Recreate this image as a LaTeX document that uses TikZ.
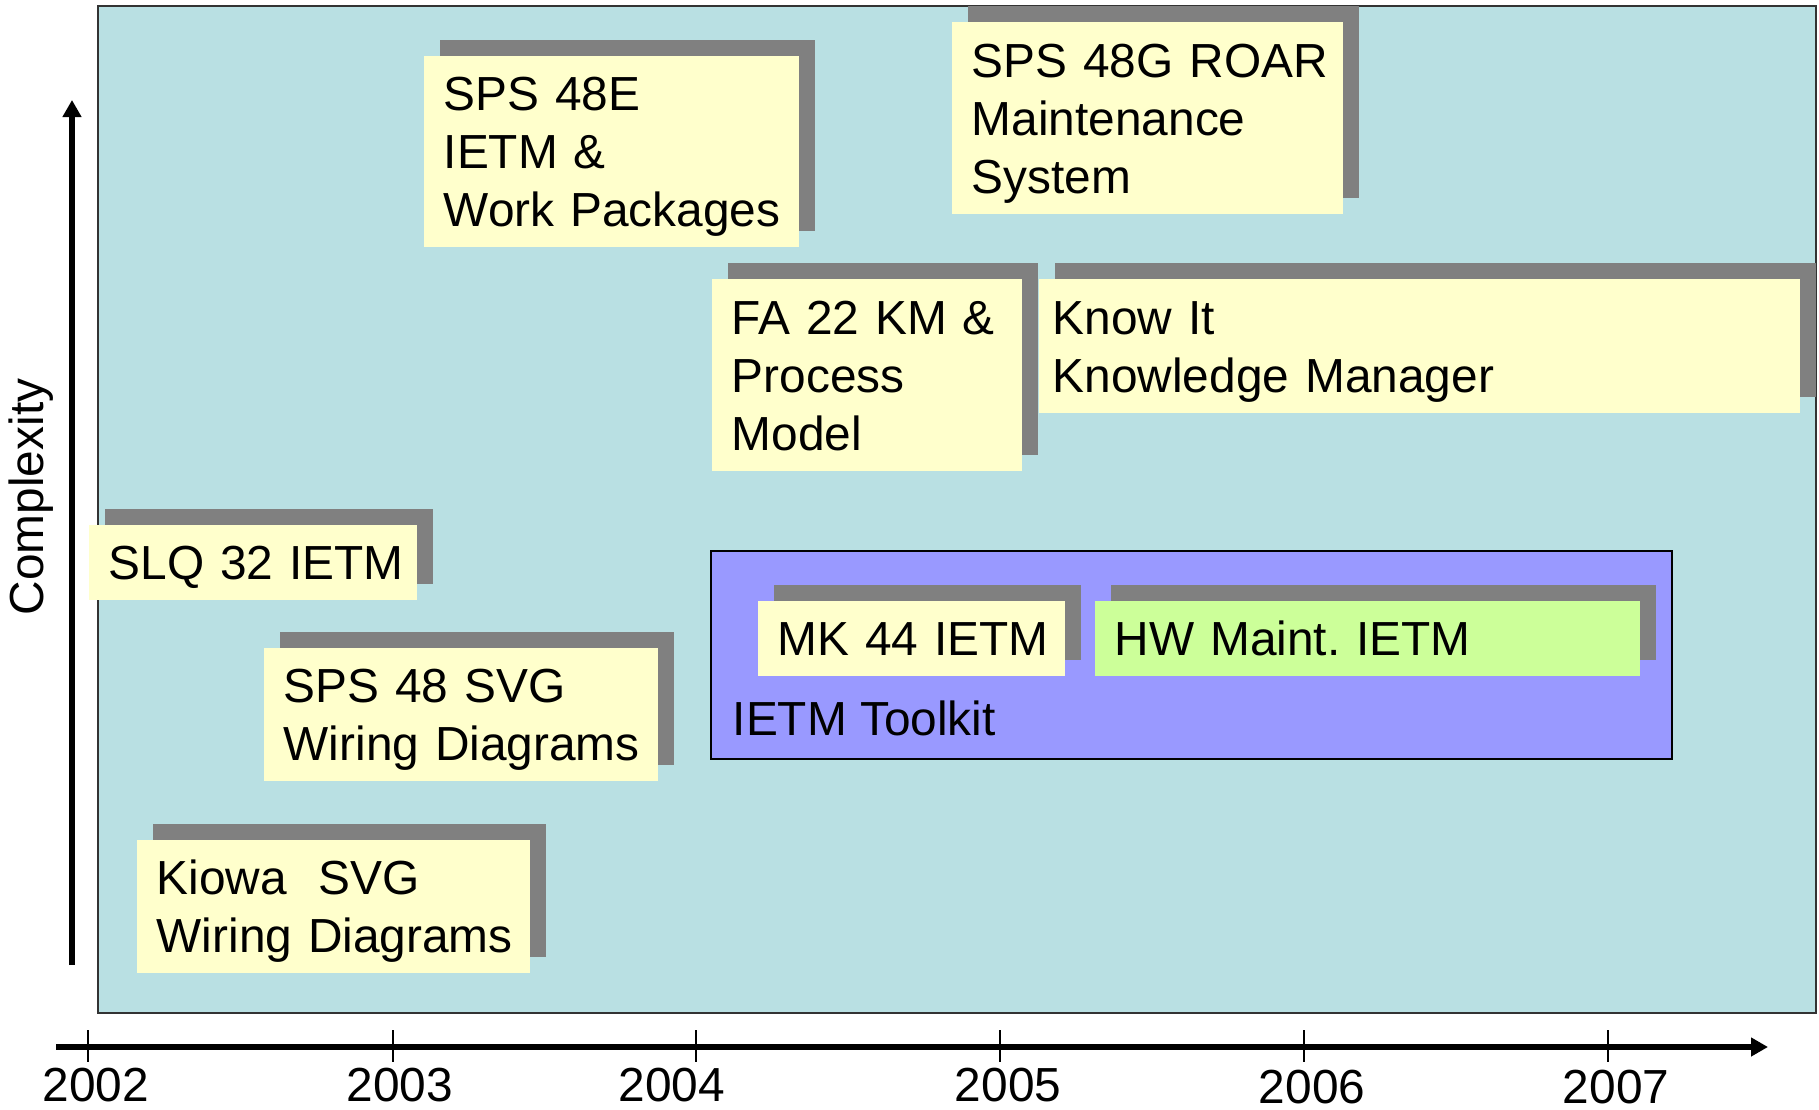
\documentclass[tikz,border=0pt]{standalone}
\usepackage{fontspec}
\setmainfont{Liberation Sans}
\usepackage{tikz}
\usetikzlibrary{arrows.meta,shadows,positioning}

\definecolor{panelblue}{RGB}{185,224,227}
\definecolor{boxyellow}{RGB}{255,255,204}
\definecolor{boxgreen}{RGB}{204,255,153}
\definecolor{kitpurple}{RGB}{153,153,255}
\definecolor{shadowgray}{RGB}{128,128,128}

\newcommand{\boxlines}[1]{\begin{tabular}{@{}l@{}}\rule{0pt}{15pt}#1\end{tabular}}
\frenchspacing

\tikzset{
  txt/.style={font=\fontsize{13.6pt}{16.5pt}\selectfont},
  item/.style={txt,fill=boxyellow,anchor=north west,align=left,inner xsep=.2cm,inner ysep=0pt,
    drop shadow={shadow xshift=.16cm,shadow yshift=.16cm,fill=shadowgray,opacity=1}},
  axisline/.style={line width=1.7pt,-{Triangle[length=.17cm,width=.18cm]}}
}

\begin{document}
\begin{tikzpicture}[x=.01cm,y=-.01cm]

        \useasboundingbox (0,0) rectangle (1819,1110);

        % background
        \draw[black!80,fill=panelblue,line width=.5pt] (98,6) rectangle (1816,1013);

        % the toolkit
        \draw[black,fill=kitpurple,line width=.5pt] (711,551) rectangle (1672,759);
        \node[txt,anchor=west,inner sep=0pt] (kit) at (732,718) {IETM Toolkit};

        % boxes
        \node[item,text width=3.35cm,minimum height=1.91cm] (sps48e) at (423,55)
          {\boxlines{SPS 48E\\IETM \&\\Work Packages}};
        \node[item,text width=3.51cm,minimum height=1.92cm] (roar) at (951,21)
          {\boxlines{SPS 48G ROAR\\Maintenance\\System}};
        \node[item,text width=2.70cm,minimum height=1.92cm] (fa22) at (711,278)
          {\boxlines{FA 22 KM \&\\Process\\Model}};
        \node[item,inner xsep=.14cm,text width=7.33cm,minimum height=1.34cm] (knowit) at (1038,278)
          {\boxlines{Know It\\Knowledge Manager}};
        \node[item,text width=2.88cm,minimum height=.75cm] (slq32) at (88,524)
          {\boxlines{SLQ 32 IETM}};
        \node[item,text width=3.54cm,minimum height=1.33cm] (sps48svg) at (263,647)
          {\boxlines{SPS 48 SVG\\Wiring Diagrams}};
        \node[item,text width=3.53cm,minimum height=1.33cm] (kiowa) at (136,839)
          {\boxlines{Kiowa\ \ SVG\\Wiring Diagrams}};
        \node[item,text width=2.67cm,minimum height=.75cm] (mk44) at (757,600)
          {\boxlines{MK 44 IETM}};
        \node[item,fill=boxgreen,text width=5.05cm,minimum height=.75cm] (hwmaint) at (1094,600)
          {\boxlines{HW Maint. IETM}};

        % axes
        \coordinate (xstart) at (56,1047);
        \coordinate (xend) at (1768,1047);
        \coordinate (ystart) at (72,965);
        \coordinate (yend) at (72,100);
        \draw[axisline] (xstart) -- (xend);
        \draw[axisline] (ystart) -- (yend);
        \node[txt,rotate=90] (cplx) at (31,497) {Complexity};

        \foreach \yr/\tx/\lx/\ly in {2002/88/96/1085,2003/393/400/1085,2004/696/672/1085,
                                     2005/1000/1008/1085,2006/1304/1312/1087,2007/1608/1616/1087}{
          \draw[line width=.6pt] (\tx,1030) -- (\tx,1062);
          \node[txt,inner sep=0pt] (y\yr) at (\lx,\ly) {\yr};
        }

      \end{tikzpicture}
\end{document}
